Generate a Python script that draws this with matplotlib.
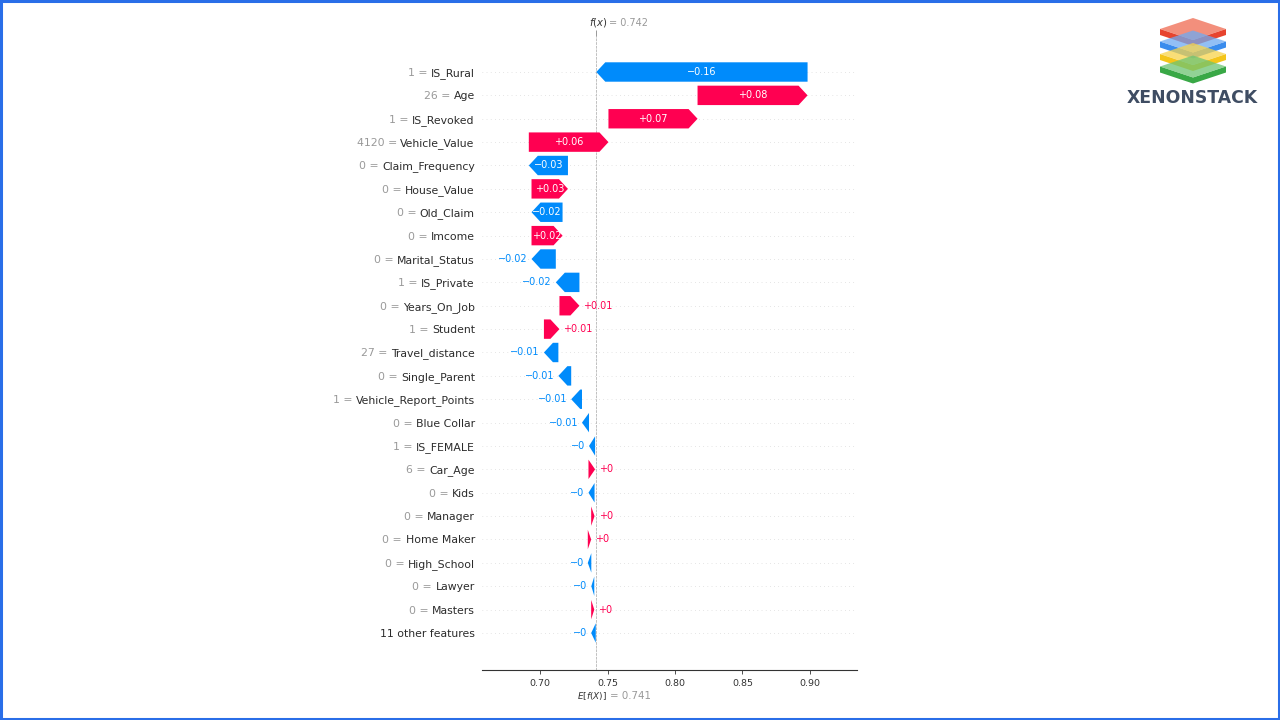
import re

import matplotlib
matplotlib.use("Agg")
import matplotlib.pyplot as plt
from matplotlib.patches import Polygon, Rectangle

# --- data (top row first) ---------------------------------------------------
feature_names = [
    "IS_Rural", "Age", "IS_Revoked", "Vehicle_Value", "Claim_Frequency",
    "House_Value", "Old_Claim", "Imcome", "Marital_Status", "IS_Private",
    "Years_On_Job", "Student", "Travel_distance", "Single_Parent",
    "Vehicle_Report_Points", "Blue Collar", "IS_FEMALE", "Car_Age", "Kids",
    "Manager", "Home Maker", "High_School", "Lawyer", "Masters",
    "11 other features",
]
feature_values = [
    "1", "26", "1", "4120", "0", "0", "0", "0", "0", "1", "0", "1", "27",
    "0", "1", "0", "1", "6", "0", "0", "0", "0", "0", "0", None,
]
shap_values = [
    -0.1565, 0.0815, 0.066, 0.059, -0.029, 0.027, -0.023, 0.023, -0.018,
    -0.0175, 0.0148, 0.0115, -0.0107, -0.0095, -0.008, -0.0052, -0.0045,
    0.0049, -0.0045, 0.0025, 0.0025, -0.0026, -0.0022, 0.0023, -0.0034,
]
base_value = 0.7413
x_ticks = [0.70, 0.75, 0.80, 0.85, 0.90]

_RED = "#ff0051"
_BLUE = "#008bfb"
_GRAY = "#999999"
_DARK = "#2b2b2b"
_BAR_H = 0.83
_HEAD_PX = 9


def format_value(v, fmt):
    s = fmt % v
    s = re.sub(r"\.?0+$", "", s)
    if s[0] == "-":
        s = "\u2212" + s[1:]
    return s


n = len(feature_names)
fx = base_value + sum(shap_values)

fig = plt.figure(figsize=(12.8, 7.2), dpi=100)
ax = fig.add_axes([481.7 / 1280, 50 / 720, 375 / 1280, 634 / 720])
ax.set_xlim(0.6568, 0.9346)
ax.set_ylim(-1.583, n - 1 + 1.54)

px_per_unit = 375 / (0.9346 - 0.6568)
head = _HEAD_PX / px_per_unit

for i in range(n):
    ax.axhline(i, color="#cccccc", lw=0.5, dashes=(1, 5), zorder=-1)

ax.axvline(fx, 0, 1, color="#bbbbbb", linestyle="--", linewidth=0.5, zorder=-1)
ax.axvline(base_value, 0, 1, color="#bbbbbb", linestyle="--", linewidth=0.5, zorder=-1)

renderer = fig.canvas.get_renderer()

# walk from the bottom row (base value) up to f(x)
cum = base_value
for k in range(n - 1, -1, -1):
    s = shap_values[k]
    y = n - 1 - k
    color = _RED if s > 0 else _BLUE
    length = abs(s)
    hl = min(length, head)
    body = max(length - hl, 1e-6)
    sign = 1 if s > 0 else -1
    ax.arrow(cum, y, sign * body, 0, head_length=hl, width=_BAR_H,
             head_width=_BAR_H, color=color, linewidth=0, zorder=3)
    lo, hi = min(cum, cum + s), max(cum, cum + s)
    label = format_value(s, "%+0.02f")
    t = ax.text((lo + hi) / 2, y, label, ha="center", va="center",
                color="white", fontsize=7, zorder=4)
    tw = t.get_window_extent(renderer).width
    if tw + 1 > length * px_per_unit:
        t.remove()
        off = 4 / px_per_unit
        if s > 0:
            ax.text(hi + off, y, label, ha="left", va="center", color=color,
                    fontsize=7, zorder=4)
        else:
            ax.text(lo - off, y, label, ha="right", va="center", color=color,
                    fontsize=7, zorder=4)
    cum += s

# y labels: black feature name, gray "value =" in front of it
ypos = [n - 1 - k for k in range(n)]
ax.set_yticks(ypos, feature_names)
ax.tick_params(axis="y", length=0, labelsize=7.8, pad=5, labelcolor=_DARK)

ax.set_xticks(x_ticks, ["%.2f" % v for v in x_ticks])
ax.tick_params(axis="x", labelsize=6.8, colors="#333333", length=3, width=0.6)
for side in ("top", "left", "right"):
    ax.spines[side].set_visible(False)
ax.spines["bottom"].set_color("#333333")
ax.spines["bottom"].set_linewidth(0.8)

fig.canvas.draw()
for lab, val, y in zip(ax.yaxis.get_majorticklabels(), feature_values, ypos):
    if val is None:
        continue
    x0 = lab.get_window_extent(renderer).x0
    ax.annotate(val + " =", xy=(x0 - 3.5, y), xycoords=("figure pixels", "data"),
                ha="right", va="center_baseline", fontsize=7.8, color=_GRAY)

# f(x) marker at the top
ax_top = ax.twiny()
ax_top.set_xlim(ax.get_xlim())
ax_top.set_xticks([fx], [""])
ax_top.tick_params(axis="x", length=4, width=0.6, colors="#888888")
for side in ("top", "left", "right", "bottom"):
    ax_top.spines[side].set_visible(False)
ax.annotate("$f(x)$", xy=(fx, 1), xycoords=("data", "axes fraction"),
            xytext=(7.7, 9.6), textcoords="offset points", ha="right",
            va="center", fontsize=7.2, color="#333333")
ax.annotate("= " + format_value(fx, "%0.03f"), xy=(fx, 1),
            xycoords=("data", "axes fraction"), xytext=(9.1, 9.6),
            textcoords="offset points", ha="left", va="center",
            fontsize=7.0, color=_GRAY)

# E[f(X)] marker under the axis
ax.annotate("$E[f(X)]$", xy=(base_value, 0), xycoords=("data", "axes fraction"),
            xytext=(8.1, -18.7), textcoords="offset points", ha="right",
            va="center", fontsize=6.4, color="#333333")
ax.annotate("= " + format_value(base_value, "%0.03f"), xy=(base_value, 0),
            xycoords=("data", "axes fraction"), xytext=(10.2, -18.7),
            textcoords="offset points", ha="left", va="center",
            fontsize=7.4, color=_GRAY)


# --- logo (figure pixel coords, y from top) ---------------------------------
def px(x, y):
    return (x / 1280, 1 - y / 720)


cx = 1193
layer_colors = [("#e63a22", "#ef6a50"), ("#2f86ec", "#6eaaf2"),
                ("#f4c20d", "#f8d44a"), ("#2ea33c", "#6cc472")]
for k, (side_c, top_c) in enumerate(layer_colors):
    yc = 29 + 12.5 * k
    side = [px(cx - 33, yc), px(cx, yc + 11), px(cx + 33, yc),
            px(cx + 33, yc + 6), px(cx, yc + 17), px(cx - 33, yc + 6)]
    top = [px(cx - 33, yc), px(cx, yc - 11), px(cx + 33, yc), px(cx, yc + 11)]
    fig.patches.append(Polygon(side, closed=True, transform=fig.transFigure,
                               facecolor=side_c, alpha=0.95, lw=0))
    fig.patches.append(Polygon(top, closed=True, transform=fig.transFigure,
                               facecolor=top_c, alpha=0.75, lw=0))
fig.text(1192 / 1280, 1 - 98 / 720, "XENONSTACK", ha="center", va="center",
         fontsize=12.4, color="#3f4d63", fontweight="bold")

# blue frame
fig.patches.append(Rectangle((0.001, 0.002), 0.998, 0.996, transform=fig.transFigure,
                             fill=False, edgecolor="#2a6ee8", linewidth=2.2))

fig.savefig("out.png", dpi=100)
